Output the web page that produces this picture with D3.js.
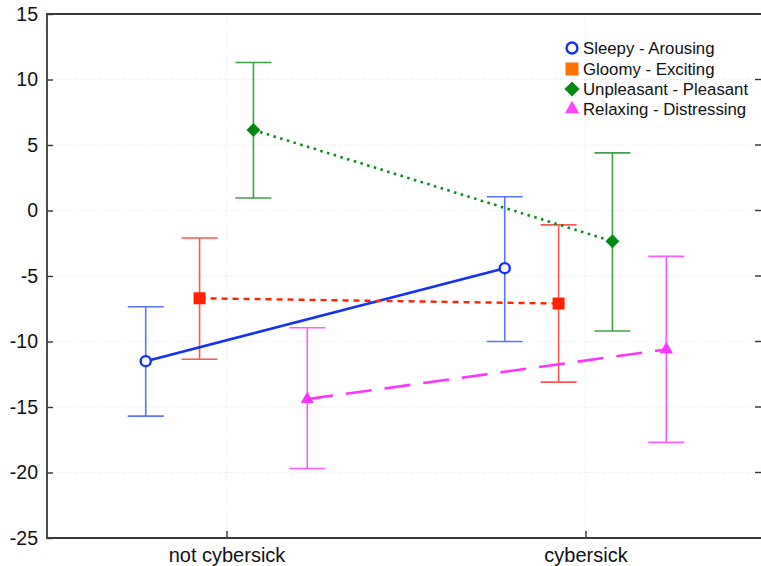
<!DOCTYPE html>
<html>
<head>
<meta charset="utf-8">
<script src="https://cdn.jsdelivr.net/npm/d3@7"></script>
<style>
  html, body { margin: 0; padding: 0; background: #fff; }
  svg { display: block; font-family: "Liberation Sans", Arial, sans-serif; }
</style>
</head>
<body>
<svg id="chart" width="761" height="566"></svg>
<script>
// ---- data ----
const categories = ["not cybersick", "cybersick"];
const seriesNames = ["Sleepy - Arousing", "Gloomy - Exciting", "Unpleasant - Pleasant", "Relaxing - Distressing"];
const sleepyMean  = [-11.5, -4.4];
const sleepyLow   = [-15.7, -10.0];
const sleepyHigh  = [-7.35, 1.05];
const gloomyMean  = [-6.7, -7.1];
const gloomyLow   = [-11.35, -13.1];
const gloomyHigh  = [-2.1, -1.1];
const unpleasMean = [6.15, -2.35];
const unpleasLow  = [0.95, -9.2];
const unpleasHigh = [11.3, 4.4];
const relaxMean   = [-14.4, -10.6];
const relaxLow    = [-19.7, -17.7];
const relaxHigh   = [-8.95, -3.5];
const yTicks = [15, 10, 5, 0, -5, -10, -15, -20, -25];

// ---- styling ----
const styles = [
  { line: "#1432f5", err: "#5a72ff", marker: "circle",   mfill: "#fff",    mstroke: "#1432f5", legend: "#1432f5", dash: null,    width: 2.6 },
  { line: "#ff2200", err: "#ff5555", marker: "square",   mfill: "#ff2200", mstroke: "#ff2200", legend: "#ff7200", dash: "6,5",   width: 2.4 },
  { line: "#0a8a1a", err: "#3fa04a", marker: "diamond",  mfill: "#008a10", mstroke: "#008a10", legend: "#008a10", dash: "2.5,4.5", width: 2.6 },
  { line: "#ff33ff", err: "#ff5cff", marker: "triangle", mfill: "#ff33ff", mstroke: "#ff33ff", legend: "#ff44ff", dash: "26,13", width: 2.6 }
];
const offsets = [-0.225, -0.075, 0.075, 0.225];

const series = [
  { name: seriesNames[0], mean: sleepyMean,  low: sleepyLow,  high: sleepyHigh },
  { name: seriesNames[1], mean: gloomyMean,  low: gloomyLow,  high: gloomyHigh },
  { name: seriesNames[2], mean: unpleasMean, low: unpleasLow, high: unpleasHigh },
  { name: seriesNames[3], mean: relaxMean,   low: relaxLow,   high: relaxHigh }
];

const svg = d3.select("#chart");
const mLeft = 47, mRight = 765, mTop = 14, mBottom = 538;

const x = d3.scaleLinear().domain([0.5, 2.5]).range([mLeft, mRight]);
const y = d3.scaleLinear().domain([-25, 15]).range([mBottom, mTop]);

// grid
const grid = svg.append("g");
grid.selectAll("line.gy").data(yTicks.filter(d => d > -25 && d < 15)).join("line")
  .attr("x1", mLeft).attr("x2", mRight)
  .attr("y1", d => y(d)).attr("y2", d => y(d))
  .attr("stroke", "#e6e6e6").attr("stroke-width", 1).attr("stroke-dasharray", "1,2");
grid.selectAll("line.gx").data(categories).join("line")
  .attr("x1", (d, i) => x(i + 1)).attr("x2", (d, i) => x(i + 1))
  .attr("y1", mTop).attr("y2", mBottom)
  .attr("stroke", "#e6e6e6").attr("stroke-width", 1).attr("stroke-dasharray", "1,2");

// axes
const yAxis = d3.axisLeft(y).tickValues(yTicks).tickSizeInner(-6).tickSizeOuter(0).tickPadding(9)
  .tickFormat(d => d < 0 ? "-" + Math.abs(d) : String(d));
const gy = svg.append("g").attr("transform", `translate(${mLeft},0)`).call(yAxis);
gy.select(".domain").remove();
gy.selectAll(".tick line").attr("stroke", "#333").attr("stroke-width", 1.4);
gy.selectAll(".tick text").attr("font-size", 19.5).attr("fill", "#111")
  .attr("font-family", "Liberation Sans, Arial, sans-serif");

const xAxis = d3.axisBottom(x).tickValues([1, 2]).tickSizeInner(-7).tickSizeOuter(0).tickPadding(10)
  .tickFormat(d => categories[d - 1]);
const gx = svg.append("g").attr("transform", `translate(0,${mBottom})`).call(xAxis);
gx.select(".domain").remove();
gx.selectAll(".tick line").attr("stroke", "#333").attr("stroke-width", 1.4);
gx.selectAll(".tick text").attr("font-size", 20).attr("fill", "#111")
  .attr("font-family", "Liberation Sans, Arial, sans-serif");

// right-side ticks
svg.append("g").selectAll("line").data(yTicks).join("line")
  .attr("x1", 755).attr("x2", 761).attr("y1", d => y(d)).attr("y2", d => y(d))
  .attr("stroke", "#333").attr("stroke-width", 1.4);

// frame
svg.append("path")
  .attr("d", `M${mRight},${mTop}H${mLeft}V${mBottom}H${mRight}`)
  .attr("fill", "none").attr("stroke", "#3a3a3a").attr("stroke-width", 1.8);

// error bars
const cap = 18;
series.forEach((s, si) => {
  const st = styles[si];
  const g = svg.append("g").attr("stroke", st.err).attr("stroke-width", 1.6).attr("fill", "none");
  categories.forEach((c, ci) => {
    const cx = x(ci + 1 + offsets[si]);
    g.append("line").attr("x1", cx).attr("x2", cx).attr("y1", y(s.low[ci])).attr("y2", y(s.high[ci]));
    g.append("line").attr("x1", cx - cap).attr("x2", cx + cap).attr("y1", y(s.low[ci])).attr("y2", y(s.low[ci]));
    g.append("line").attr("x1", cx - cap).attr("x2", cx + cap).attr("y1", y(s.high[ci])).attr("y2", y(s.high[ci]));
  });
});

// lines
const lineGen = d3.line().x(d => x(d.ci + 1 + d.off)).y(d => y(d.v));
series.forEach((s, si) => {
  const st = styles[si];
  const pts = s.mean.map((v, ci) => ({ v, ci, off: offsets[si] }));
  svg.append("path").attr("d", lineGen(pts))
    .attr("fill", "none").attr("stroke", st.line).attr("stroke-width", st.width)
    .attr("stroke-dasharray", st.dash);
});

// markers
function drawMarker(g, type, cx, cy, fill, stroke, size) {
  if (type === "circle") {
    g.append("circle").attr("cx", cx).attr("cy", cy).attr("r", size * 0.42)
      .attr("fill", fill).attr("stroke", stroke).attr("stroke-width", 2.4);
  } else if (type === "square") {
    const h = size / 2;
    g.append("rect").attr("x", cx - h).attr("y", cy - h).attr("width", size).attr("height", size)
      .attr("fill", fill);
  } else if (type === "diamond") {
    const h = size * 0.58;
    g.append("path").attr("d", `M${cx},${cy - h}L${cx + h},${cy}L${cx},${cy + h}L${cx - h},${cy}Z`).attr("fill", fill);
  } else if (type === "triangle") {
    const h = size * 0.55;
    g.append("path").attr("d", `M${cx},${cy - h * 1.15}L${cx + h},${cy + h * 0.6}L${cx - h},${cy + h * 0.6}Z`).attr("fill", fill);
  }
}
series.forEach((s, si) => {
  const st = styles[si];
  const g = svg.append("g");
  s.mean.forEach((v, ci) => {
    drawMarker(g, st.marker, x(ci + 1 + offsets[si]), y(v), st.mfill, st.mstroke, 12);
  });
});

// legend
const lg = svg.append("g");
const legendY = [48, 69, 89, 109];
series.forEach((s, si) => {
  const st = styles[si];
  drawMarker(lg, st.marker, 572, legendY[si], st.marker === "circle" ? "#fff" : st.legend, st.legend, 13);
  lg.append("text").attr("x", 583).attr("y", legendY[si]).attr("dy", "0.36em")
    .attr("font-size", 16.8).attr("fill", "#111").text(s.name);
});
</script>
</body>
</html>
